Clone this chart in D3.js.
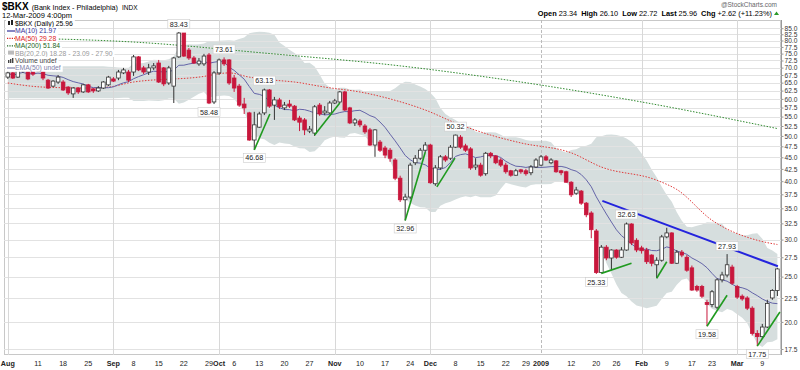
<!DOCTYPE html>
<html>
<head>
<meta charset="utf-8">
<script src="https://cdn.jsdelivr.net/npm/d3@7"></script>
<style>
  body { margin: 0; background: #fff; }
  svg { display: block; font-family: "Liberation Sans", Arial, sans-serif; }
</style>
</head>
<body>
<svg id="chart" width="800" height="370"></svg>
<script>
// $BKX daily candles, 1-Aug-2008 .. 12-Mar-2009 (one entry per trading day)
var opens = [66.8,68.2,66.8,68.8,69.5,69.2,68.8,69.5,65.8,63.9,65.2,65.2,63.6,61.5,63.3,62.1,64.3,63.0,62.4,63.3,
  64.3,66.2,66.5,68.2,68.5,68.5,73.8,69.9,68.5,69.9,71.6,69.9,64.9,63.9,73.8,83.0,76.3,73.4,71.3,71.3,
  74.5,59.1,68.2,72.7,72.7,66.5,63.9,58.5,56.0,49.0,52.2,56.0,62.7,58.2,59.7,57.4,58.5,57.9,54.6,54.1,
  51.2,50.7,58.2,56.0,56.0,58.8,59.1,62.1,57.4,53.3,53.8,52.5,51.5,47.8,48.5,47.1,46.6,44.4,40.6,36.5,
  37.0,43.8,44.8,46.6,47.8,39.5,42.7,45.1,44.8,47.3,49.7,47.6,46.9,42.9,43.3,41.5,45.9,45.3,44.4,43.3,
  42.1,41.2,42.3,42.1,41.7,42.9,43.3,45.1,43.8,44.2,42.1,41.9,39.8,37.7,38.1,35.9,34.2,31.3,25.5,28.9,
  27.4,28.5,27.5,28.5,32.4,29.9,28.8,28.5,27.8,26.5,27.1,30.4,31.0,26.7,28.2,27.5,26.1,23.8,23.8,22.0,
  21.8,21.5,24.6,25.2,26.2,23.8,22.7,22.5,21.4,18.9,18.6,19.5,22.5,23.34];
var highs = [69.2,68.5,70.2,70.6,70.2,69.5,70.2,69.9,66.2,65.8,67.5,65.8,63.9,63.6,63.6,64.6,64.6,63.3,63.9,65.5,
  67.2,66.8,69.2,69.9,69.2,74.5,74.1,70.6,71.3,71.6,72.7,70.2,70.6,73.8,83.43,83.0,77.1,74.1,73.4,74.9,
  75.2,68.8,73.2,73.61,73.0,67.5,64.6,60.3,56.3,56.3,56.3,63.13,63.0,60.6,60.3,59.1,59.7,58.2,55.2,54.6,
  52.5,58.2,58.8,57.9,59.4,60.0,62.4,62.4,57.7,54.6,54.3,53.0,52.0,51.7,49.0,47.6,47.1,44.8,41.1,37.6,
  43.8,45.5,47.1,48.5,48.1,43.3,45.5,45.5,47.8,50.32,50.2,48.1,47.3,44.8,43.8,46.2,46.2,45.5,44.8,43.8,
  42.3,42.5,42.5,42.5,43.3,44.8,45.5,45.5,44.8,44.4,42.3,42.1,40.0,38.9,38.3,36.1,34.5,31.6,29.2,29.2,
  28.6,28.6,28.9,32.63,32.5,30.2,29.1,28.8,27.9,27.5,30.7,31.8,31.1,28.5,28.5,27.8,26.4,24.0,24.0,22.3,
  23.4,24.8,25.6,27.93,26.5,24.0,22.9,22.7,21.6,19.2,19.8,22.3,23.5,26.10];
var lows = [66.2,66.2,66.5,68.2,65.8,67.2,68.5,65.8,63.0,63.6,64.6,62.4,61.2,60.3,61.5,61.8,61.8,61.8,62.1,63.0,
  63.9,65.2,65.8,67.8,65.2,67.2,68.8,67.8,67.5,69.2,64.9,63.9,64.3,58.8,73.4,73.8,72.7,71.3,70.6,70.6,
  58.48,58.5,67.5,70.6,64.3,62.1,57.7,55.7,48.8,46.68,52.0,55.4,57.4,54.1,57.1,56.8,57.4,53.8,51.2,50.2,
  50.7,50.0,55.2,55.4,55.7,58.5,58.8,56.5,53.0,52.5,52.2,50.5,47.6,45.1,46.2,44.8,44.0,40.2,36.1,32.96,
  36.6,43.3,44.4,46.2,39.5,39.1,42.3,44.0,44.4,47.1,46.9,46.2,42.3,42.3,40.9,41.1,44.8,43.5,42.9,41.5,
  40.9,41.1,41.5,41.1,41.2,42.7,43.1,44.2,43.5,41.7,41.2,39.7,37.0,37.4,35.6,33.5,30.2,25.33,25.4,27.1,
  25.8,27.3,27.4,28.4,29.2,28.2,28.0,26.6,26.3,24.8,26.9,30.2,26.6,26.6,27.5,25.6,23.3,23.2,22.5,19.58,
  21.5,21.3,24.3,24.9,24.0,22.4,22.2,21.2,18.7,17.75,18.4,19.4,22.3,22.72];
var closes = [68.2,66.5,69.2,69.5,66.2,67.8,69.5,66.5,63.3,65.5,66.8,62.7,61.8,63.3,62.1,64.3,62.1,62.4,63.3,65.2,
  66.8,65.5,68.5,69.2,65.8,73.8,69.2,68.5,69.9,70.6,65.2,64.6,69.9,73.4,83.0,74.1,73.4,71.6,72.3,74.1,
  58.8,68.2,72.7,71.3,64.9,63.3,58.2,57.4,49.0,52.8,55.7,62.7,57.9,59.7,57.7,58.2,57.9,54.1,53.5,51.5,
  51.7,57.7,55.7,56.5,58.8,59.4,62.1,56.8,53.3,54.1,52.8,51.0,47.8,51.5,46.6,45.5,44.8,40.6,36.5,37.0,
  43.3,44.8,46.6,47.8,39.7,42.7,45.1,44.4,47.3,50.2,47.3,46.6,42.7,43.3,41.2,45.9,45.3,43.8,43.3,41.9,
  41.2,42.1,41.9,41.5,42.9,44.4,45.1,44.4,44.4,41.9,41.7,39.8,37.4,38.3,35.9,33.9,31.5,25.5,28.9,27.4,
  28.5,27.5,28.5,32.4,29.5,28.5,28.4,26.9,26.7,27.1,30.4,31.0,26.7,28.2,27.8,25.8,23.4,23.4,22.7,21.8,
  23.2,24.6,25.2,26.5,24.2,22.6,22.4,21.4,18.9,18.6,19.5,21.9,23.34,25.96];

// x axis labels (trading-day index -> text)
var tickIdx   = [0, 6, 11, 16, 21, 25, 30, 35, 40, 42, 45, 50, 55, 60, 65, 70, 75, 80, 84, 89, 94, 99, 103, 106, 112, 117, 121, 126, 131, 136, 140, 145, 150];
var tickLabel = ["Aug","11","18","25","Sep","8","15","22","29","Oct","6","13","20","27","Nov","10","17","24","Dec","8","15","22","29","2009","12","20","26","Feb","9","17","23","Mar","9"];
var monthIdx  = [0, 21, 42, 65, 84, 106, 126, 145];

// moving averages that need history before Aug
var ma50Pts  = [[0,64.9],[7,63.6],[16,63.3],[20,63.6],[25,65.2],[38,66.8],[44,68.2],[48,66.8],[53,65.8],[57,65.2],[63,63.6],[71,61.8],[76,60.0],[83,56.8],[89,53.3],[96,50.2],[102,48.3],[112,46.0],[118,42.9],[129,40.2],[133,38.4],[140,33.0],[149,29.9],[153,29.28]];
var ma200Pts = [[0,81.0],[25,79.4],[51,75.2],[78,70.6],[102,65.2],[126,59.1],[153,51.84]];

// hand drawn trend lines
var greenLines = [[[49,46.68],[52.1,55.7]], [[61,50.2],[66,58.8]], [[79,32.96],[83,46.2]], [[85.3,38.9],[88.9,44.8]],
  [[118,25.4],[124,26.7]], [[129,24.8],[131,26.9]], [[139,19.58],[143,22.8]], [[149,17.75],[153.5,21.0]]];
var blueLine = [[118.2,36.3],[153.1,26.3]];

// price callouts: day index and whether it marks the high or the low
var calloutIdx  = [34, 43, 51, 40, 49, 79, 89, 117, 123, 143, 139, 149];
var calloutSide = ["h","h","h","l","l","l","h","l","h","h","l","l"];

var svg = d3.select("#chart");
var pL = 4, pR = 781, pT = 20, pB = 355;

var x = d3.scaleLinear().domain([0, closes.length - 1]).range([7.8, 777.4]);
var y = d3.scaleLog().domain([17.5, 85]).range([349, 28.2]);

// header
var hdr = svg.append("text").attr("x", 2).attr("y", 10).attr("fill", "#000");
hdr.append("tspan").attr("font-size", 10).attr("font-weight", "bold").text("$BKX");
hdr.append("tspan").attr("font-size", 7.2).attr("dx", 3).text("(Bank Index - Philadelphia)");
hdr.append("tspan").attr("font-size", 6.5).attr("dx", 4).text("INDX");
svg.append("text").attr("x", 2).attr("y", 18).attr("font-size", 7.5).text("12-Mar-2009 4:00pm");

svg.append("text").attr("x", 777).attr("y", 7).attr("text-anchor", "end")
  .attr("font-size", 6.5).attr("fill", "#666").text("@StockCharts.com");
var quote = [["Open","23.34"],["High","26.10"],["Low","22.72"],["Last","25.96"],["Chg","+2.62 (+11.23%)"]];
var qt = svg.append("text").attr("x", 772).attr("y", 16).attr("text-anchor", "end").attr("font-size", 7.4);
quote.forEach(function(q, k) {
  qt.append("tspan").attr("font-weight", "bold").attr("dx", k ? 4 : 0).text(q[0]);
  qt.append("tspan").attr("dx", 2).text(q[1]);
});
svg.append("path").attr("d", "M774,15 L776.5,11.5 L779,15 Z").attr("fill", "#2a9a2a");

// plot clip
svg.append("clipPath").attr("id", "clip").append("rect")
  .attr("x", pL).attr("y", pT).attr("width", pR - pL).attr("height", pB - pT);
var g = svg.append("g").attr("clip-path", "url(#clip)");

// Bollinger bands and MA(10) from the closes
var bb = closes.map(function(c, i) {
  var w = closes.slice(Math.max(0, i - 19), Math.max(i, 19) + 1);
  var m = d3.mean(w);
  var sd = Math.sqrt(d3.mean(w, function(v) { return (v - m) * (v - m); }));
  return {i: i, up: m + 2 * sd, lo: m - 2 * sd};
});
var ma10 = closes.map(function(c, i) {
  return {i: i, v: d3.mean(closes.slice(Math.max(0, i - 9), i + 1))};
});

g.append("path").datum(bb)
  .attr("fill", "#d6dede")
  .attr("d", d3.area().x(function(d) { return x(d.i); })
    .y0(function(d) { return y(d.lo); }).y1(function(d) { return y(d.up); }));

// grid
var yTicks = d3.range(17.5, 85.01, 2.5);
g.selectAll(".hgrid").data(yTicks).enter().append("line")
  .attr("x1", pL).attr("x2", pR)
  .attr("y1", function(d) { return Math.round(y(d)) + 0.5; }).attr("y2", function(d) { return Math.round(y(d)) + 0.5; })
  .attr("stroke", "#e2e2e2").attr("stroke-width", 1);
g.selectAll(".vgrid").data(monthIdx).enter().append("line")
  .attr("x1", function(d) { return Math.round(x(d)) + 0.5; }).attr("x2", function(d) { return Math.round(x(d)) + 0.5; })
  .attr("y1", pT).attr("y2", pB)
  .attr("stroke", function(d) { return d === 106 ? "#bbb" : "#d8d8d8"; })
  .attr("stroke-dasharray", function(d) { return d === 106 ? "3,2" : null; });

// moving averages
var line = d3.line().x(function(d) { return x(d[0]); }).y(function(d) { return y(d[1]); }).curve(d3.curveMonotoneX);
g.append("path").datum(ma200Pts).attr("d", line).attr("fill", "none")
  .attr("stroke", "#2f8a2f").attr("stroke-width", 1).attr("stroke-dasharray", "1.5,1.5");
g.append("path").datum(ma50Pts).attr("d", line).attr("fill", "none")
  .attr("stroke", "#e03a3a").attr("stroke-width", 1).attr("stroke-dasharray", "1.5,1.5");
g.append("path").datum(ma10).attr("fill", "none")
  .attr("stroke", "#6464a8").attr("stroke-width", 1)
  .attr("d", d3.line().x(function(d) { return x(d.i); }).y(function(d) { return y(d.v); }));

// candles
var bw = 3.6;
var candles = g.selectAll(".candle").data(closes).enter().append("g");
candles.append("line")
  .attr("x1", function(d, i) { return x(i); }).attr("x2", function(d, i) { return x(i); })
  .attr("y1", function(d, i) { return y(highs[i]); }).attr("y2", function(d, i) { return y(lows[i]); })
  .attr("stroke", function(d, i) { return d < opens[i] ? "#c8173c" : "#333"; }).attr("stroke-width", 1);
candles.append("rect")
  .attr("x", function(d, i) { return x(i) - bw / 2; })
  .attr("width", bw)
  .attr("y", function(d, i) { return y(Math.max(d, opens[i])); })
  .attr("height", function(d, i) { return Math.max(1, y(Math.min(d, opens[i])) - y(Math.max(d, opens[i]))); })
  .attr("fill", function(d, i) { return d < opens[i] ? "#c8173c" : "#fff"; })
  .attr("stroke", function(d, i) { return d < opens[i] ? "#c8173c" : "#333"; })
  .attr("stroke-width", 0.8);

// trend lines
var seg = d3.line().x(function(d) { return x(d[0]); }).y(function(d) { return y(d[1]); });
g.selectAll(".gl").data(greenLines).enter().append("path")
  .attr("d", seg).attr("stroke", "#1f9a1f").attr("stroke-width", 1.6).attr("fill", "none");
g.append("path").datum(blueLine).attr("d", seg)
  .attr("stroke", "#2424dd").attr("stroke-width", 2).attr("fill", "none");

// legend (each row on its own white backing, like the original)
var legend = [
  {t: "$BKX (Daily) 25.96", c: "#000", k: "candle"},
  {t: "MA(10) 21.97", c: "#333399", k: "solid", lc: "#333399"},
  {t: "MA(50) 29.28", c: "#dd2222", k: "dot", lc: "#dd2222"},
  {t: "MA(200) 51.84", c: "#226622", k: "dot", lc: "#226622"},
  {t: "BB(20,2.0) 18.28 - 23.09 - 27.90", c: "#999", k: "bb"},
  {t: "Volume undef", c: "#444", k: "vol"},
  {t: "EMA(50) undef", c: "#8080a8", k: "solid", lc: "#8080a8"}
];
legend.forEach(function(l, k) {
  var ly = 26 + k * 7.4;
  var bg = svg.append("rect").attr("x", 6).attr("y", ly - 6.2).attr("height", 7.6).attr("fill", "#fff");
  if (l.k === "candle") {
    svg.append("rect").attr("x", 8).attr("y", ly - 5).attr("width", 2).attr("height", 4).attr("fill", "#222");
    svg.append("rect").attr("x", 11).attr("y", ly - 6).attr("width", 2).attr("height", 5).attr("fill", "#222");
  } else if (l.k === "solid" || l.k === "dot") {
    svg.append("line").attr("x1", 7).attr("x2", 15).attr("y1", ly - 2.4).attr("y2", ly - 2.4)
      .attr("stroke", l.lc).attr("stroke-width", 1.2)
      .attr("stroke-dasharray", l.k === "dot" ? "1.2,1.2" : null);
  } else if (l.k === "bb") {
    svg.append("rect").attr("x", 8).attr("y", ly - 5).attr("width", 6).attr("height", 4).attr("fill", "#bbb");
  } else {
    [0, 2, 4].forEach(function(o, j) {
      svg.append("rect").attr("x", 8 + o).attr("y", ly - 3 - j).attr("width", 1.4).attr("height", 3 + j).attr("fill", "#444");
    });
  }
  var t = svg.append("text").attr("x", 15).attr("y", ly).attr("font-size", 6.8).attr("fill", l.c).text(l.t);
  bg.attr("width", t.node().getComputedTextLength() + 11);
});

// callouts (drawn over the frame so the bottom one is not cut)
calloutIdx.forEach(function(ci, k) {
  var isHigh = calloutSide[k] === "h";
  var v = isHigh ? highs[ci] : lows[ci];
  var cy = isHigh ? y(v) - 8 : y(v) + 8;
  var lg = svg.append("g");
  var t = lg.append("text").attr("x", x(ci)).attr("y", cy + 2.6).attr("text-anchor", "middle")
    .attr("font-size", 7.2).attr("fill", "#222").text(v.toFixed(2));
  var tw = t.node().getComputedTextLength();
  lg.insert("rect", "text").attr("x", x(ci) - tw / 2 - 2).attr("y", cy - 4.5)
    .attr("width", tw + 4).attr("height", 9)
    .attr("fill", "#fff").attr("stroke", "#ccc").attr("stroke-width", 0.6);
});

// frame
svg.insert("rect", "g").attr("x", pL + 0.5).attr("y", pT + 0.5)
  .attr("width", pR - pL - 1).attr("height", pB - pT - 1)
  .attr("fill", "none").attr("stroke", "#c8c8c8");
svg.append("line").attr("x1", pR + 0.5).attr("x2", pR + 0.5).attr("y1", pT).attr("y2", pB)
  .attr("stroke", "#999");

// right axis
var ax = svg.append("g").attr("transform", "translate(" + (pR + 0.5) + ",0)")
  .call(d3.axisRight(y).tickValues(yTicks).tickSize(2).tickPadding(1).tickFormat(d3.format(".1f")));
ax.select(".domain").remove();
ax.selectAll("line").attr("stroke", "#999");
ax.selectAll("text").attr("font-size", 6.6).attr("fill", "#333").attr("font-family", "Liberation Sans, Arial, sans-serif");

// bottom labels
svg.selectAll(".xl").data(tickIdx).enter().append("text")
  .attr("x", function(d) { return x(d); }).attr("y", 366)
  .attr("text-anchor", "middle").attr("font-size", 7.2).attr("fill", "#222")
  .attr("font-weight", function(d, k) { return isNaN(+tickLabel[k]) || tickLabel[k] === "2009" ? "bold" : "normal"; })
  .text(function(d, k) { return tickLabel[k]; });
</script>
</body>
</html>
